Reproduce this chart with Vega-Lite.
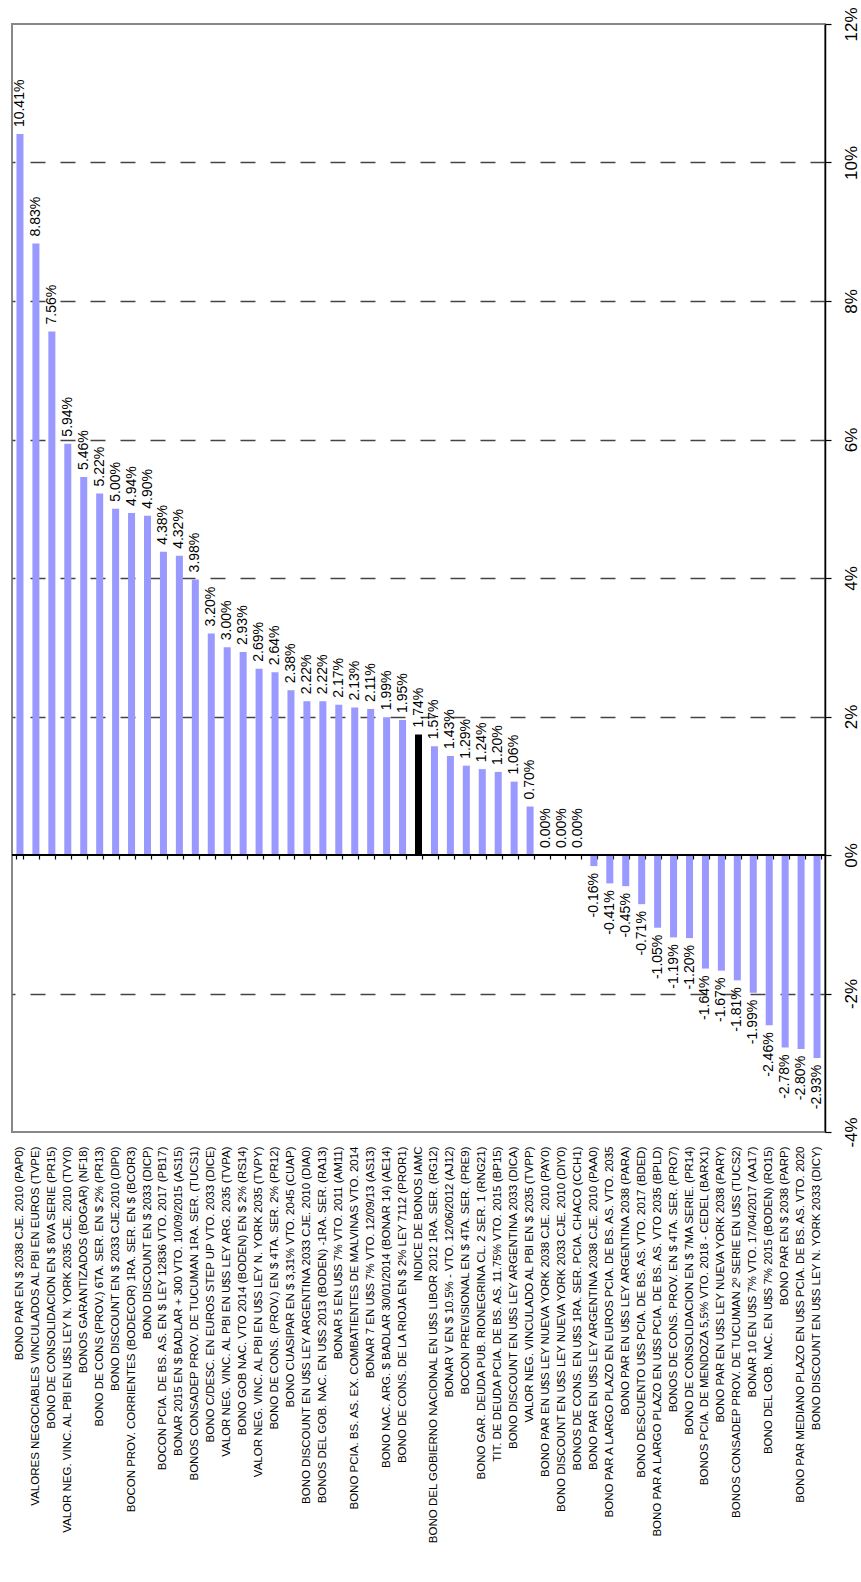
{
  "$schema": "https://vega.github.io/schema/vega-lite/v6.json",
  "width": 813,
  "height": 1108,
  "autosize": {"type": "none"},
  "padding": {"left": 12, "top": 24, "right": 36, "bottom": 450},
  "background": "white",
  "config": {
    "font": "Liberation Sans",
    "view": {"stroke": "#888888", "strokeWidth": 2},
    "locale": {"number": {"decimal": ".", "thousands": ",", "grouping": [3], "currency": ["$", ""], "minus": "-"}}
  },
  "data": {"values": [
    {"bono": "BONO PAR EN $ 2038 CJE. 2010 (PAP0)", "v": 0.1041, "g": "bono"},
    {"bono": "VALORES NEGOCIABLES VINCULADOS AL PBI EN EUROS (TVPE)", "v": 0.0883, "g": "bono"},
    {"bono": "BONO DE CONSOLIDACION EN $ 8VA SERIE (PR15)", "v": 0.0756, "g": "bono"},
    {"bono": "VALOR NEG. VINC. AL PBI EN U$S LEY N. YORK 2035 CJE. 2010 (TVY0)", "v": 0.0594, "g": "bono"},
    {"bono": "BONOS GARANTIZADOS (BOGAR) (NF18)", "v": 0.0546, "g": "bono"},
    {"bono": "BONO DE CONS (PROV.) 6TA. SER. EN $ 2% (PR13)", "v": 0.0522, "g": "bono"},
    {"bono": "BONO DISCOUNT EN $ 2033 CJE.2010 (DIP0)", "v": 0.05, "g": "bono"},
    {"bono": "BOCON  PROV. CORRIENTES (BODECOR) 1RA. SER. EN $ (BCOR3)", "v": 0.0494, "g": "bono"},
    {"bono": "BONO DISCOUNT EN $ 2033 (DICP)", "v": 0.049, "g": "bono"},
    {"bono": "BOCON PCIA. DE BS. AS. EN $ LEY 12836 VTO. 2017 (PB17)", "v": 0.0438, "g": "bono"},
    {"bono": "BONAR 2015 EN $ BADLAR + 300 VTO. 10/09/2015 (AS15)", "v": 0.0432, "g": "bono"},
    {"bono": "BONOS CONSADEP PROV. DE TUCUMAN 1RA. SER. (TUCS1)", "v": 0.0398, "g": "bono"},
    {"bono": "BONO C/DESC. EN EUROS STEP UP VTO. 2033 (DICE)", "v": 0.032, "g": "bono"},
    {"bono": "VALOR NEG. VINC. AL PBI EN U$S LEY ARG. 2035 (TVPA)", "v": 0.03, "g": "bono"},
    {"bono": "BONO GOB NAC. VTO 2014 (BODEN) EN $ 2% (RS14)", "v": 0.0293, "g": "bono"},
    {"bono": "VALOR NEG. VINC. AL PBI EN U$S LEY N. YORK 2035 (TVPY)", "v": 0.0269, "g": "bono"},
    {"bono": "BONO DE CONS. (PROV.) EN $ 4TA. SER. 2% (PR12)", "v": 0.0264, "g": "bono"},
    {"bono": "BONO CUASIPAR EN $ 3,31% VTO. 2045 (CUAP)", "v": 0.0238, "g": "bono"},
    {"bono": "BONO DISCOUNT EN U$S LEY ARGENTINA 2033 CJE. 2010 (DIA0)", "v": 0.0222, "g": "bono"},
    {"bono": "BONOS DEL GOB. NAC. EN U$S 2013 (BODEN) -1RA. SER. (RA13)", "v": 0.0222, "g": "bono"},
    {"bono": "BONAR 5 EN U$S 7% VTO. 2011 (AM11)", "v": 0.0217, "g": "bono"},
    {"bono": "BONO PCIA. BS. AS. EX. COMBATIENTES DE MALVINAS VTO. 2014", "v": 0.0213, "g": "bono"},
    {"bono": "BONAR 7 EN U$S 7% VTO. 12/09/13 (AS13)", "v": 0.0211, "g": "bono"},
    {"bono": "BONO NAC. ARG. $ BADLAR 30/01/2014 (BONAR 14) (AE14)", "v": 0.0199, "g": "bono"},
    {"bono": "BONO DE CONS. DE LA RIOJA EN $ 2% LEY 7112 (PROR1)", "v": 0.0195, "g": "bono"},
    {"bono": "INDICE DE BONOS IAMC", "v": 0.0174, "g": "indice"},
    {"bono": "BONO DEL GOBIERNO NACIONAL EN U$S LIBOR 2012 1RA. SER. (RG12)", "v": 0.0157, "g": "bono"},
    {"bono": "BONAR V EN $ 10.5% - VTO. 12/06/2012 (AJ12)", "v": 0.0143, "g": "bono"},
    {"bono": "BOCON PREVISIONAL EN $ 4TA. SER. (PRE9)", "v": 0.0129, "g": "bono"},
    {"bono": "BONO GAR. DEUDA PUB. RIONEGRINA CL. 2 SER. 1 (RNG21)", "v": 0.0124, "g": "bono"},
    {"bono": "TIT. DE DEUDA PCIA. DE BS. AS. 11.75% VTO. 2015 (BP15)", "v": 0.012, "g": "bono"},
    {"bono": "BONO DISCOUNT EN U$S LEY ARGENTINA 2033 (DICA)", "v": 0.0106, "g": "bono"},
    {"bono": "VALOR NEG. VINCULADO AL PBI EN $ 2035 (TVPP)", "v": 0.007, "g": "bono"},
    {"bono": "BONO PAR EN U$S LEY NUEVA YORK 2038 CJE. 2010 (PAY0)", "v": 0, "g": "bono"},
    {"bono": "BONO DISCOUNT EN U$S LEY NUEVA YORK 2033 CJE. 2010 (DIY0)", "v": 0, "g": "bono"},
    {"bono": "BONOS DE CONS. EN U$S 1RA. SER. PCIA. CHACO (CCH1)", "v": 0, "g": "bono"},
    {"bono": "BONO PAR EN U$S LEY ARGENTINA 2038 CJE. 2010 (PAA0)", "v": -0.0016, "g": "bono"},
    {"bono": "BONO PAR A LARGO PLAZO EN EUROS PCIA. DE BS. AS. VTO. 2035", "v": -0.0041, "g": "bono"},
    {"bono": "BONO PAR EN U$S LEY ARGENTINA 2038 (PARA)", "v": -0.0045, "g": "bono"},
    {"bono": "BONO DESCUENTO U$S PCIA. DE BS. AS. VTO. 2017 (BDED)", "v": -0.0071, "g": "bono"},
    {"bono": "BONO PAR A LARGO PLAZO EN U$S PCIA. DE BS. AS. VTO 2035 (BPLD)", "v": -0.0105, "g": "bono"},
    {"bono": "BONOS DE CONS. PROV. EN $ 4TA. SER. (PRO7)", "v": -0.0119, "g": "bono"},
    {"bono": "BONO DE CONSOLIDACION EN $ 7MA SERIE. (PR14)", "v": -0.012, "g": "bono"},
    {"bono": "BONOS PCIA. DE MENDOZA 5,5% VTO. 2018 - CEDEL (BARX1)", "v": -0.0164, "g": "bono"},
    {"bono": "BONO PAR EN U$S LEY NUEVA YORK 2038 (PARY)", "v": -0.0167, "g": "bono"},
    {"bono": "BONOS CONSADEP PROV. DE TUCUMAN 2º SERIE EN U$S (TUCS2)", "v": -0.0181, "g": "bono"},
    {"bono": "BONAR 10 EN U$S 7% VTO. 17/04/2017 (AA17)", "v": -0.0199, "g": "bono"},
    {"bono": "BONO DEL GOB. NAC. EN U$S 7% 2015 (BODEN) (RO15)", "v": -0.0246, "g": "bono"},
    {"bono": "BONO PAR EN $ 2038 (PARP)", "v": -0.0278, "g": "bono"},
    {"bono": "BONO PAR MEDIANO PLAZO EN U$S PCIA. DE BS. AS. VTO. 2020", "v": -0.028, "g": "bono"},
    {"bono": "BONO DISCOUNT EN U$S LEY N. YORK 2033 (DICY)", "v": -0.0293, "g": "bono"}
  ]},
  "encoding": {
    "x": {"field": "bono", "type": "nominal", "sort": null,
      "scale": {"paddingInner": 0.56, "paddingOuter": 0.28}},
    "y": {"field": "v", "type": "quantitative",
      "scale": {"domain": [-0.04, 0.12], "nice": false, "zero": false},
      "axis": {"orient": "right", "values": [-0.04, -0.02, 0, 0.02, 0.04, 0.06, 0.08, 0.1, 0.12],
        "format": ".0%", "title": null, "labelAngle": -90, "labelAlign": "center", "labelBaseline": "top",
        "labelFontSize": 17, "labelColor": "black", "labelPadding": 12,
        "domainColor": "black", "domainWidth": 1.5, "tickColor": "black", "tickSize": 6, "tickWidth": 1.2,
        "grid": true, "gridColor": "#444444", "gridDash": [15, 15], "gridWidth": 1.3,
        "gridOpacity": {"condition": {"test": "datum.value == 0 || datum.value == 0.12 || datum.value == -0.04", "value": 0}, "value": 1}}}
  },
  "layer": [
    {
      "mark": {"type": "bar"},
      "encoding": {
        "x": {"field": "bono", "type": "nominal", "sort": null,
          "axis": {"orient": "bottom", "title": null, "labelAngle": -90, "labelAlign": "right", "labelBaseline": "middle",
            "labelFontSize": 11.5, "labelColor": "black", "labelPadding": 14, "labelLimit": 0, "labelOverlap": false,
            "ticks": false, "domain": false}},
        "color": {"field": "g", "type": "nominal", "legend": null,
          "scale": {"domain": ["bono", "indice"], "range": ["#9999FF", "#000000"]}}
      }
    },
    {
      "mark": {"type": "rule", "color": "black", "strokeWidth": 1.5},
      "encoding": {"x": null, "y": {"datum": 0}}
    },
    {
      "transform": [{"filter": "datum.v >= 0"}],
      "mark": {"type": "text", "angle": -90, "align": "left", "baseline": "middle", "dx": 7, "fontSize": 14, "color": "black"},
      "encoding": {
        "x": {"field": "bono", "type": "nominal", "sort": null,
          "axis": {"orient": "bottom", "offset": -277, "title": null, "labels": false, "ticks": true, "tickBand": "extent",
            "tickColor": "black", "tickSize": 4, "tickWidth": 1.2, "domain": false, "grid": false}},
        "text": {"field": "v", "type": "quantitative", "format": ".2%"}
      }
    },
    {
      "transform": [{"filter": "datum.v < 0"}],
      "mark": {"type": "text", "angle": -90, "align": "right", "baseline": "middle", "dx": -7, "fontSize": 14, "color": "black"},
      "encoding": {
        "x": {"field": "bono", "type": "nominal", "sort": null, "axis": null},
        "text": {"field": "v", "type": "quantitative", "format": ".2%"}
      }
    }
  ],
  "resolve": {"axis": {"x": "independent"}}
}
